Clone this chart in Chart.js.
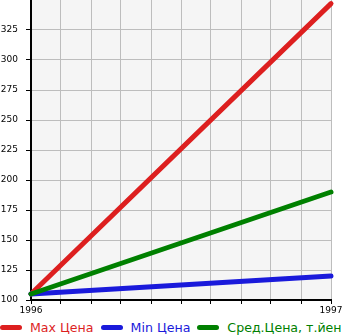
<!DOCTYPE html>
<html>
<head>
<meta charset="utf-8">
<script src="https://cdn.jsdelivr.net/npm/chart.js@4/dist/chart.umd.min.js"></script>
<style>
  body { margin: 0; background: #fff; }
  #wrap { position: relative; width: 345px; height: 320px; }
  #legend { display: flex; align-items: center; height: 15px; font: 12.6px "DejaVu Sans", sans-serif; white-space: nowrap; overflow: hidden; width: 345px; }
  #legend .item { display: flex; align-items: center; margin-right: 7px; }
  #legend .swatch { width: 22px; height: 5px; border-radius: 3px; margin-right: 8px; }
</style>
</head>
<body>
<div id="wrap"><canvas id="priceChart"></canvas></div>
<div id="legend"></div>
<script>
var years = [1996, 1997];
var maxPrice = [105, 347];
var minPrice = [105, 120];
var avgPrice = [105, 190];

var seriesNames = ['Max Цена', 'Min Цена', 'Сред.Цена, т.йен'];
var seriesColors = ['#dd1f1f', '#1a1adb', '#008000'];

function toPoints(arr) {
    return arr.map(function (v, i) { return { x: years[i], y: v }; });
}

// light grey fill behind the plot area
var plotBg = {
    id: 'plotBg',
    beforeDraw: function (chart) {
        var a = chart.chartArea, ctx = chart.ctx;
        ctx.save();
        ctx.fillStyle = '#f5f5f5';
        ctx.fillRect(a.left, a.top, a.right - a.left, a.bottom - a.top);
        ctx.restore();
    }
};

var ctx = document.getElementById('priceChart');
var chart = new Chart(ctx, {
    type: 'line',
    data: {
        datasets: [maxPrice, minPrice, avgPrice].map(function (arr, i) {
            return {
                label: seriesNames[i],
                data: toPoints(arr),
                borderColor: seriesColors[i],
                backgroundColor: seriesColors[i],
                borderWidth: 5,
                borderCapStyle: 'round',
                pointRadius: 0,
                tension: 0,
                clip: false
            };
        }).reverse()
    },
    options: {
        responsive: true,
        maintainAspectRatio: false,
        animation: false,
        layout: { padding: { top: 0, right: 14, bottom: 0, left: 0 } },
        plugins: { legend: { display: false }, tooltip: { enabled: false } },
        scales: {
            x: {
                type: 'linear',
                min: 1996,
                max: 1997,
                afterFit: function (s) { s.height = 20; },
                border: { color: '#000', width: 2 },
                grid: { color: '#bdbdbd', lineWidth: 1, tickLength: 4, tickColor: '#000' },
                ticks: {
                    stepSize: 0.1,
                    autoSkip: false,
                    maxRotation: 0,
                    padding: 1,
                    color: '#000',
                    font: { family: 'DejaVu Sans', size: 9 },
                    callback: function (v) {
                        return Math.abs(v - Math.round(v)) < 1e-6 ? String(Math.round(v)) : '';
                    }
                }
            },
            y: {
                min: 100,
                max: 350,
                afterFit: function (s) {
                    s.width = 31;
                    s.paddingTop = 0;
                    s.paddingBottom = 0;
                },
                // top value is the plot edge, no tick there
                afterBuildTicks: function (s) {
                    s.ticks = s.ticks.filter(function (t) { return t.value < 350; });
                },
                border: { color: '#000', width: 2 },
                grid: { color: '#bdbdbd', lineWidth: 1, tickLength: 5, tickColor: '#000' },
                ticks: {
                    stepSize: 25,
                    padding: 8,
                    color: '#000',
                    font: { family: 'DejaVu Sans', size: 9 }
                }
            }
        }
    },
    plugins: [plotBg]
});

// legend row under the chart
var legend = document.getElementById('legend');
seriesNames.forEach(function (name, i) {
    var item = document.createElement('span');
    item.className = 'item';
    var sw = document.createElement('span');
    sw.className = 'swatch';
    sw.style.background = seriesColors[i];
    var txt = document.createElement('span');
    txt.style.color = seriesColors[i];
    txt.textContent = name;
    item.appendChild(sw);
    item.appendChild(txt);
    legend.appendChild(item);
});
</script>
</body>
</html>
